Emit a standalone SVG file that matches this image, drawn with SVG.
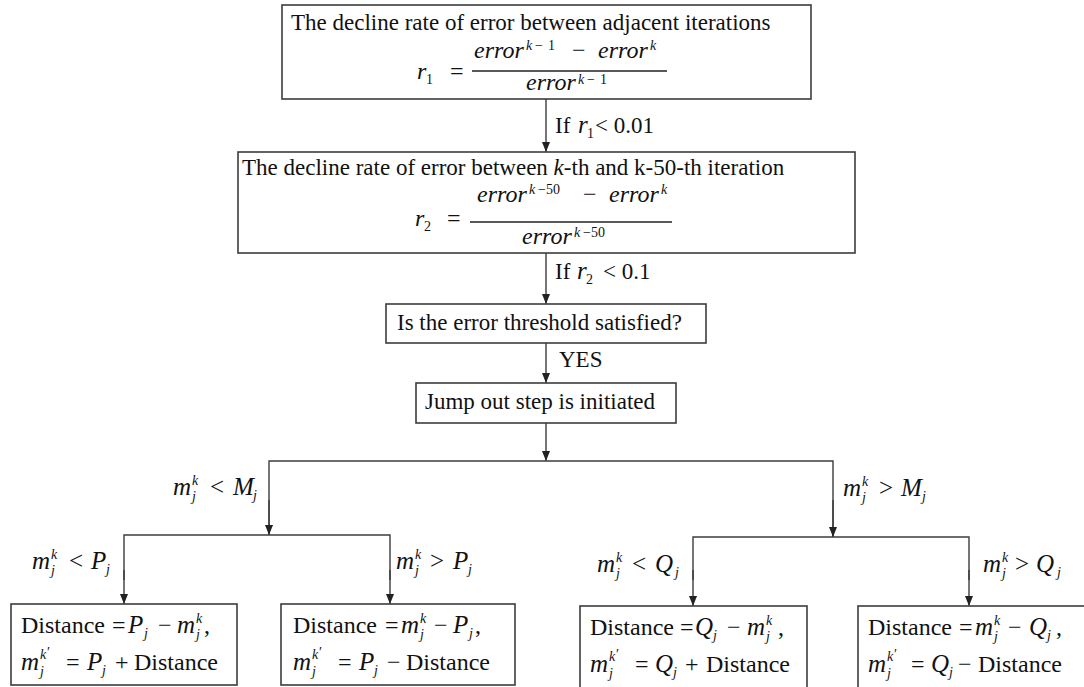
<svg xmlns="http://www.w3.org/2000/svg" width="1084" height="687" viewBox="0 0 1084 687">
<defs>
<style>
.box{fill:#fff;stroke:#3c3c3c;stroke-width:1.6}
.ln{fill:none;stroke:#3c3c3c;stroke-width:1.4}
.ar{fill:none;stroke:#3c3c3c;stroke-width:1.4;marker-end:url(#ah)}
.fr{stroke:#222;stroke-width:1.3}
text{font-family:"Liberation Serif","Times New Roman",serif;font-size:23px;fill:#111}
.m{font-style:italic;font-size:24px}
.b{font-size:24px}
.i{font-style:italic;font-size:25px}
.u{font-style:normal}
.s{font-size:14px}
</style>
<marker id="ah" viewBox="0 0 10 8" refX="10" refY="4" markerWidth="10" markerHeight="8" markerUnits="userSpaceOnUse" orient="auto">
<path d="M0,0 L10,4 L0,8 z" fill="#222"/>
</marker>
</defs>
<rect width="1084" height="687" fill="#fff"/>

<g id="connectors">
<line class="ar" x1="546" y1="99" x2="546" y2="152"/>
<line class="ar" x1="546" y1="253" x2="546" y2="304"/>
<line class="ar" x1="546" y1="343" x2="546" y2="383"/>
<line class="ar" x1="546" y1="423" x2="546" y2="461"/>
<polyline class="ln" points="269,535 269,461 833,461 833,537"/>
<line class="ar" x1="269" y1="500" x2="269" y2="535"/>
<line class="ar" x1="833" y1="500" x2="833" y2="537"/>
<polyline class="ln" points="124,580 124,535 390,535 390,580"/>
<line class="ar" x1="124" y1="570" x2="124" y2="604"/>
<line class="ar" x1="390" y1="570" x2="390" y2="604"/>
<polyline class="ln" points="693,580 693,537 969,537 969,580"/>
<line class="ar" x1="693" y1="570" x2="693" y2="606"/>
<line class="ar" x1="969" y1="570" x2="969" y2="606"/>
<text x="555" y="133">If<tspan class="i" x="578" y="133">r</tspan><tspan class="s" x="587" y="138">1</tspan><tspan x="595" y="133">&lt; 0.01</tspan></text>
<text x="555" y="279">If<tspan class="i" x="577" y="279">r</tspan><tspan class="s" x="586" y="284">2</tspan><tspan x="603" y="279">&lt; 0.1</tspan></text>
<text x="559" y="367">YES</text>
<text class="i"><tspan x="173" y="495">m</tspan><tspan class="s" x="192" y="485">k</tspan><tspan class="s" x="192" y="501">j</tspan><tspan class="u" x="210" y="495">&lt;</tspan><tspan x="233" y="495">M</tspan><tspan class="s" x="253" y="500">j</tspan></text>
<text class="i"><tspan x="843" y="496">m</tspan><tspan class="s" x="862" y="486">k</tspan><tspan class="s" x="862" y="502">j</tspan><tspan class="u" x="879" y="496">&gt;</tspan><tspan x="901" y="496">M</tspan><tspan class="s" x="922" y="501">j</tspan></text>
<text class="i"><tspan x="32" y="569">m</tspan><tspan class="s" x="51" y="559">k</tspan><tspan class="s" x="51" y="575">j</tspan><tspan class="u" x="69" y="569">&lt;</tspan><tspan x="91" y="569">P</tspan><tspan class="s" x="106" y="574">j</tspan></text>
<text class="i"><tspan x="396" y="569">m</tspan><tspan class="s" x="415" y="559">k</tspan><tspan class="s" x="415" y="575">j</tspan><tspan class="u" x="430" y="569">&gt;</tspan><tspan x="453" y="569">P</tspan><tspan class="s" x="468" y="574">j</tspan></text>
<text class="i"><tspan x="597" y="572">m</tspan><tspan class="s" x="616" y="562">k</tspan><tspan class="s" x="616" y="578">j</tspan><tspan class="u" x="632" y="572">&lt;</tspan><tspan x="655" y="572">Q</tspan><tspan class="s" x="675" y="577">j</tspan></text>
<text class="i"><tspan x="983" y="572">m</tspan><tspan class="s" x="1002" y="562">k</tspan><tspan class="s" x="1002" y="578">j</tspan><tspan class="u" x="1015" y="572">&gt;</tspan><tspan x="1036" y="572">Q</tspan><tspan class="s" x="1057" y="577">j</tspan></text>
</g>

<g id="node-r1">
<rect class="box" x="282" y="5" width="529" height="94"/>
<text x="291" y="30">The decline rate of error between adjacent iterations</text>
<text class="m"><tspan x="417" y="79">r</tspan><tspan class="s u" x="426" y="84">1</tspan><tspan class="u" x="450" y="79">=</tspan></text>
<text class="m"><tspan x="474" y="58">error</tspan><tspan class="s" x="526" y="50">k</tspan><tspan class="s u" x="535" y="50">−</tspan><tspan class="s u" x="548" y="50">1</tspan><tspan class="u" x="572" y="58">−</tspan><tspan x="598" y="58">error</tspan><tspan class="s" x="650" y="50">k</tspan></text>
<line class="fr" x1="472" y1="71" x2="667" y2="71"/>
<text class="m"><tspan x="526" y="90">error</tspan><tspan class="s" x="578" y="84">k</tspan><tspan class="s u" x="587" y="84">−</tspan><tspan class="s u" x="600" y="84">1</tspan></text>
</g>

<g id="node-r2">
<rect class="box" x="238" y="152" width="617" height="101"/>
<text x="242" y="175">The decline rate of error between <tspan font-style="italic">k</tspan>-th and k-50-th iteration</text>
<text class="m"><tspan x="415" y="226">r</tspan><tspan class="s u" x="424" y="231">2</tspan><tspan class="u" x="447" y="226">=</tspan></text>
<text class="m"><tspan x="477" y="202">error</tspan><tspan class="s" x="529" y="194">k</tspan><tspan class="s u" x="538" y="194">−50</tspan><tspan class="u" x="583" y="202">−</tspan><tspan x="609" y="202">error</tspan><tspan class="s" x="661" y="194">k</tspan></text>
<line class="fr" x1="470" y1="222" x2="672" y2="222"/>
<text class="m"><tspan x="522" y="244">error</tspan><tspan class="s" x="574" y="237">k</tspan><tspan class="s u" x="583" y="237">−50</tspan></text>
</g>

<g id="node-threshold">
<rect class="box" x="386" y="304" width="320" height="39"/>
<text x="397" y="330">Is the error threshold satisfied?</text>
</g>

<g id="node-jump">
<rect class="box" x="416" y="383" width="260" height="40"/>
<text x="425" y="409">Jump out step is initiated</text>
</g>

<g id="node-a">
<rect class="box" x="11" y="604" width="226" height="81"/>
<text class="b"><tspan x="21" y="633">Distance</tspan><tspan x="112" y="633">=</tspan><tspan class="i" x="128" y="633">P</tspan><tspan class="i s" x="144" y="638">j</tspan><tspan x="158" y="633">−</tspan><tspan class="i" x="177" y="633">m</tspan><tspan class="i s" x="196" y="623">k</tspan><tspan class="i s" x="196" y="639">j</tspan><tspan x="204" y="633">,</tspan></text>
<text class="b"><tspan class="i" x="21" y="670">m</tspan><tspan class="i s" x="40" y="659">k</tspan><tspan class="s" x="47" y="657">′</tspan><tspan class="i s" x="40" y="676">j</tspan><tspan x="66" y="670">=</tspan><tspan class="i" x="87" y="670">P</tspan><tspan class="i s" x="102" y="675">j</tspan><tspan x="115" y="670">+</tspan><tspan x="134" y="670">Distance</tspan></text>
</g>

<g id="node-b">
<rect class="box" x="281" y="604" width="234" height="81"/>
<text class="b"><tspan x="293" y="633">Distance</tspan><tspan x="385" y="633">=</tspan><tspan class="i" x="401" y="633">m</tspan><tspan class="i s" x="420" y="623">k</tspan><tspan class="i s" x="420" y="639">j</tspan><tspan x="434" y="633">−</tspan><tspan class="i" x="453" y="633">P</tspan><tspan class="i s" x="469" y="638">j</tspan><tspan x="475" y="633">,</tspan></text>
<text class="b"><tspan class="i" x="293" y="670">m</tspan><tspan class="i s" x="312" y="659">k</tspan><tspan class="s" x="319" y="657">′</tspan><tspan class="i s" x="312" y="676">j</tspan><tspan x="338" y="670">=</tspan><tspan class="i" x="359" y="670">P</tspan><tspan class="i s" x="374" y="675">j</tspan><tspan x="387" y="670">−</tspan><tspan x="406" y="670">Distance</tspan></text>
</g>

<g id="node-c">
<rect class="box" x="580" y="606" width="227" height="90"/>
<text class="b"><tspan x="590" y="635">Distance</tspan><tspan x="680" y="635">=</tspan><tspan class="i" x="695" y="635">Q</tspan><tspan class="i s" x="713" y="640">j</tspan><tspan x="727" y="635">−</tspan><tspan class="i" x="747" y="635">m</tspan><tspan class="i s" x="766" y="625">k</tspan><tspan class="i s" x="766" y="641">j</tspan><tspan x="778" y="635">,</tspan></text>
<text class="b"><tspan class="i" x="590" y="672">m</tspan><tspan class="i s" x="609" y="661">k</tspan><tspan class="s" x="616" y="659">′</tspan><tspan class="i s" x="609" y="678">j</tspan><tspan x="635" y="672">=</tspan><tspan class="i" x="655" y="672">Q</tspan><tspan class="i s" x="673" y="677">j</tspan><tspan x="685" y="672">+</tspan><tspan x="706" y="672">Distance</tspan></text>
</g>

<g id="node-d">
<rect class="box" x="858" y="606" width="240" height="90"/>
<text class="b"><tspan x="868" y="635">Distance</tspan><tspan x="959" y="635">=</tspan><tspan class="i" x="975" y="635">m</tspan><tspan class="i s" x="994" y="625">k</tspan><tspan class="i s" x="994" y="641">j</tspan><tspan x="1008" y="635">−</tspan><tspan class="i" x="1029" y="635">Q</tspan><tspan class="i s" x="1047" y="640">j</tspan><tspan x="1056" y="635">,</tspan></text>
<text class="b"><tspan class="i" x="868" y="672">m</tspan><tspan class="i s" x="887" y="661">k</tspan><tspan class="s" x="894" y="659">′</tspan><tspan class="i s" x="887" y="678">j</tspan><tspan x="911" y="672">=</tspan><tspan class="i" x="931" y="672">Q</tspan><tspan class="i s" x="949" y="677">j</tspan><tspan x="958" y="672">−</tspan><tspan x="978" y="672">Distance</tspan></text>
</g>
</svg>
